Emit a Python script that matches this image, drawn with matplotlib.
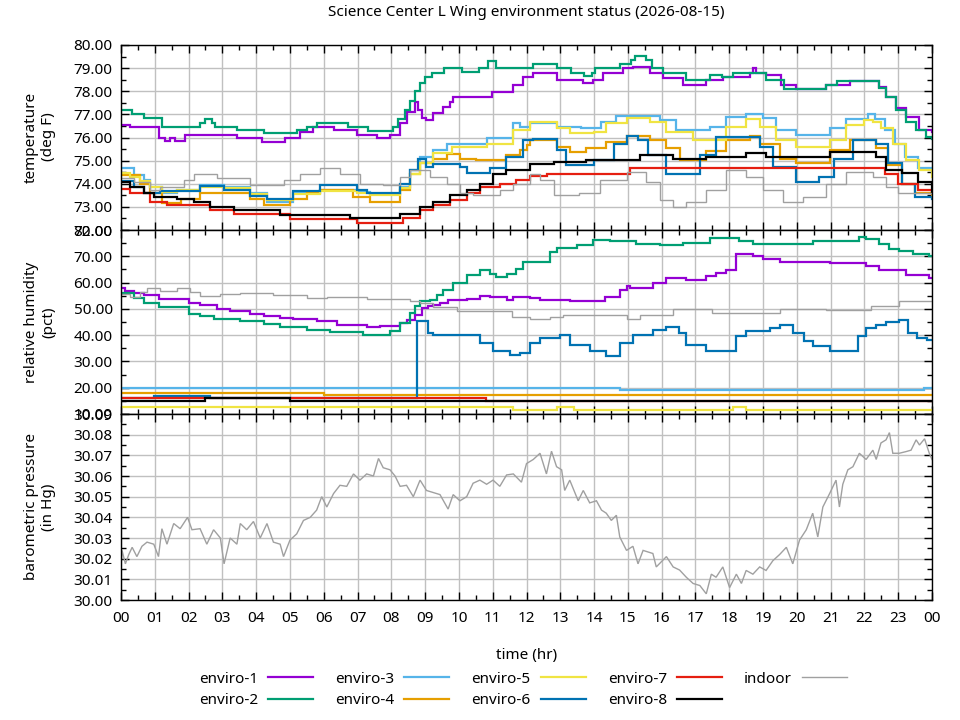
import matplotlib
matplotlib.use("Agg")
import matplotlib.pyplot as plt
from matplotlib.ticker import MultipleLocator, FormatStrFormatter, FuncFormatter

plt.rcParams['font.family'] = ['Noto Sans', 'DejaVu Sans']
plt.rcParams['font.size'] = 11

names = ["enviro-1", "enviro-2", "enviro-3", "enviro-4", "enviro-5",
         "enviro-6", "enviro-7", "enviro-8", "indoor"]
colors = ["#9400d3", "#009e73", "#56b4e9", "#e69f00", "#f0e442",
          "#0072b2", "#e51e10", "#000000", "#a0a0a0"]

# temperature (deg F), (hour, value) step points
temp_e1 = [(0.0, 76.54), (0.28, 76.44), (1.11, 75.96), (1.3, 75.85), (1.45, 75.96), (1.6, 75.85),
           (1.9, 76.10), (3.43, 76.00), (4.17, 75.82), (4.86, 75.96), (5.3, 76.25), (5.69, 76.46),
           (6.29, 76.32), (6.98, 76.10), (7.57, 76.00), (7.96, 76.10), (8.26, 76.61), (8.45, 77.1),
           (8.7, 77.55), (8.8, 77.2), (8.9, 76.83), (9.04, 76.75), (9.24, 77.04), (9.54, 77.3),
           (9.73, 77.55), (9.83, 77.73), (10.97, 77.98), (11.6, 78.27), (11.9, 78.60), (12.2, 78.80),
           (12.89, 78.48), (13.68, 78.34), (13.97, 78.48), (14.27, 78.80), (14.87, 78.99), (15.15, 79.06),
           (15.65, 78.80), (16.04, 78.56), (16.63, 78.27), (17.32, 78.48), (17.81, 78.60), (18.6, 78.80),
           (18.7, 79.0), (18.78, 78.80), (19.09, 78.70), (19.54, 78.27), (19.98, 78.08), (20.87, 78.27),
           (21.56, 78.46), (22.24, 78.46), (22.44, 78.20), (22.64, 77.76), (22.93, 77.26), (23.23, 76.90),
           (23.62, 76.32), (24.0, 76.25)]
temp_e2 = [(0.0, 77.19), (0.33, 77.01), (0.67, 76.83), (1.21, 76.46), (2.34, 76.64), (2.5, 76.78),
           (2.7, 76.64), (2.78, 76.46), (3.43, 76.32), (4.22, 76.18), (5.2, 76.32), (5.5, 76.46),
           (5.8, 76.64), (6.73, 76.46), (7.3, 76.29), (8.06, 76.46), (8.2, 76.8), (8.4, 77.2),
           (8.55, 77.6), (8.7, 78.0), (8.85, 78.35), (9.0, 78.6), (9.2, 78.8), (9.55, 78.99),
           (10.1, 78.85), (10.6, 78.99), (10.85, 79.32), (11.1, 78.99), (12.2, 79.16), (12.89, 78.99),
           (13.33, 78.77), (13.7, 78.65), (13.95, 78.77), (14.02, 78.99), (14.76, 79.16), (15.1, 79.35),
           (15.2, 79.52), (15.55, 79.35), (15.7, 78.99), (16.04, 78.77), (16.73, 78.48), (17.42, 78.70),
           (17.8, 78.60), (18.1, 78.80), (19.09, 78.48), (19.63, 78.08), (20.87, 78.27), (21.2, 78.46),
           (22.24, 78.46), (22.44, 78.12), (22.64, 77.76), (22.93, 77.19), (23.23, 76.68), (23.52, 76.32),
           (23.82, 76.03), (24.0, 75.92)]
temp_e3 = [(0.0, 74.66), (0.37, 74.37), (0.67, 74.16), (0.87, 73.87), (1.21, 73.58), (1.66, 73.72),
           (2.34, 73.94), (3.04, 73.84), (3.82, 73.58), (4.32, 73.22), (5.1, 73.58), (5.89, 73.72),
           (6.97, 73.65), (7.37, 73.55), (8.26, 73.87), (8.55, 74.59), (8.85, 75.17), (9.24, 75.45),
           (9.64, 75.71), (10.82, 75.96), (11.6, 76.61), (11.8, 76.46), (12.1, 76.64), (12.89, 76.46),
           (13.6, 76.39), (14.2, 76.68), (14.66, 76.93), (15.94, 76.75), (16.43, 76.32), (17.42, 76.46),
           (17.91, 76.87), (18.5, 77.01), (19.0, 76.83), (19.39, 76.32), (19.98, 76.10), (20.97, 76.39),
           (21.46, 76.78), (22.1, 77.0), (22.3, 76.78), (22.6, 76.32), (22.9, 75.74), (23.2, 75.17),
           (23.6, 74.66), (24.0, 74.52)]
temp_e4 = [(0.0, 74.37), (0.57, 74.01), (0.87, 73.58), (1.21, 73.15), (1.77, 73.32), (2.34, 73.58),
           (3.82, 73.36), (4.22, 73.07), (5.0, 73.32), (5.5, 73.58), (5.89, 73.72), (6.88, 73.43),
           (7.37, 73.22), (8.26, 73.72), (8.55, 74.44), (8.85, 74.88), (9.24, 75.09), (9.64, 75.28),
           (10.03, 75.09), (10.52, 75.02), (11.4, 75.24), (11.8, 75.45), (12.0, 75.67), (12.1, 75.89),
           (12.89, 75.60), (13.28, 75.38), (13.77, 75.53), (14.36, 75.82), (14.96, 76.06), (15.65, 75.89),
           (16.14, 75.53), (16.53, 75.02), (17.32, 75.43), (17.91, 75.89), (18.6, 76.06), (18.9, 75.71),
           (19.5, 75.09), (19.98, 74.88), (20.97, 75.45), (21.56, 75.89), (22.34, 75.53), (22.7, 74.8),
           (23.1, 74.0), (23.5, 73.6), (24.0, 73.48)]
temp_e5 = [(0.0, 74.47), (0.28, 74.30), (0.57, 74.13), (0.87, 73.87), (1.21, 73.65), (1.66, 73.72),
           (2.34, 73.87), (3.04, 73.80), (3.82, 73.55), (4.32, 73.29), (5.1, 73.55), (5.89, 73.69),
           (6.97, 73.60), (7.37, 73.51), (8.26, 73.80), (8.55, 74.44), (8.85, 74.88), (9.24, 75.31),
           (9.8, 75.60), (10.82, 75.74), (11.6, 76.32), (12.1, 76.68), (12.89, 76.39), (13.28, 76.18),
           (14.0, 76.25), (14.36, 76.61), (14.96, 76.83), (15.65, 76.68), (16.14, 76.25), (16.92, 75.89),
           (17.91, 76.46), (18.5, 76.78), (18.9, 76.46), (19.39, 75.89), (19.98, 75.57), (20.97, 75.89),
           (21.46, 76.54), (22.0, 76.75), (22.25, 76.68), (22.5, 76.39), (22.85, 75.74), (23.23, 75.02),
           (23.62, 74.59), (24.0, 74.30)]
temp_e6 = [(0.0, 74.13), (0.37, 73.87), (0.67, 73.58), (1.16, 73.69), (2.34, 73.90), (3.04, 73.75),
           (3.82, 73.48), (4.32, 73.32), (5.1, 73.69), (5.89, 73.94), (6.97, 73.72), (7.27, 73.58),
           (8.26, 74.01), (8.55, 74.59), (8.8, 75.05), (9.04, 74.73), (9.24, 74.85), (10.03, 74.73),
           (10.23, 74.47), (10.92, 74.70), (11.4, 75.17), (11.9, 75.89), (12.2, 75.93), (12.89, 75.45),
           (13.18, 74.81), (14.0, 75.02), (14.6, 75.74), (14.96, 76.06), (15.3, 75.89), (15.6, 75.24),
           (16.14, 74.44), (17.12, 75.24), (17.6, 76.03), (18.4, 76.03), (18.9, 75.60), (19.3, 74.73),
           (19.98, 74.08), (20.67, 74.30), (21.1, 75.09), (21.66, 75.89), (22.34, 75.74), (22.7, 74.9),
           (23.1, 74.0), (23.5, 73.43), (24.0, 73.36)]
temp_e7 = [(0.0, 73.77), (0.28, 73.58), (0.87, 73.22), (1.36, 73.07), (2.64, 72.86), (3.33, 72.71),
           (5.0, 72.48), (6.97, 72.31), (8.36, 72.50), (8.85, 72.86), (9.24, 73.07), (9.73, 73.29),
           (10.23, 73.58), (10.62, 73.87), (11.21, 73.98), (11.7, 74.16), (12.1, 74.33), (12.6, 74.44),
           (15.05, 74.66), (22.44, 74.66), (22.6, 74.44), (23.0, 74.0), (23.6, 73.72), (24.0, 73.58)]
temp_e8 = [(0.0, 74.08), (0.28, 73.87), (0.67, 73.58), (0.97, 73.43), (1.66, 73.36), (2.15, 73.22),
           (2.64, 73.00), (3.33, 72.86), (4.71, 72.67), (6.78, 72.50), (8.26, 72.68), (8.85, 73.00),
           (9.24, 73.22), (9.73, 73.51), (10.23, 73.72), (10.62, 74.01), (11.0, 74.44), (11.4, 74.59),
           (12.1, 74.85), (12.8, 74.95), (13.77, 75.02), (15.35, 75.24), (16.34, 75.09), (17.32, 75.17),
           (18.5, 75.34), (19.09, 75.17), (20.97, 75.38), (22.34, 75.17), (22.64, 74.59), (23.1, 74.45),
           (23.6, 74.08), (24.0, 73.6)]
temp_in = [(0.0, 74.23), (0.37, 74.08), (0.87, 73.72), (1.16, 73.87), (1.85, 74.16), (2.15, 74.42),
           (2.83, 74.23), (3.82, 73.94), (4.81, 74.16), (5.3, 74.44), (5.89, 74.66), (6.48, 74.44),
           (7.07, 73.98), (7.76, 73.94), (8.26, 74.30), (8.55, 74.59), (9.14, 74.30), (9.64, 74.01),
           (10.03, 73.58), (10.43, 73.51), (11.21, 73.72), (11.6, 74.01), (12.1, 74.44), (12.4, 74.16),
           (12.8, 73.51), (13.56, 73.58), (14.17, 74.16), (14.96, 74.52), (15.55, 74.08), (15.94, 73.29),
           (16.34, 73.00), (16.73, 73.22), (17.32, 73.72), (17.91, 74.59), (18.5, 74.30), (19.0, 73.72),
           (19.6, 73.22), (20.18, 73.43), (20.87, 74.01), (21.46, 74.52), (22.24, 74.30), (22.64, 73.87),
           (23.0, 73.58), (24.0, 73.43)]

# relative humidity (pct)
hum_e1 = [(0.0, 57.8), (0.13, 56.9), (0.37, 56.1), (0.67, 55.3), (1.11, 53.6), (2.0, 52.1),
          (2.34, 51.5), (2.84, 49.9), (3.23, 49.0), (3.82, 48.0), (4.22, 47.4), (4.71, 46.7),
          (5.1, 46.1), (5.79, 45.2), (6.38, 44.0), (7.27, 43.0), (7.66, 43.6), (7.96, 43.3),
          (8.26, 44.6), (8.45, 45.8), (8.7, 47.7), (8.9, 50.3), (9.09, 50.9), (9.24, 51.5),
          (9.44, 52.1), (9.68, 53.4), (10.23, 53.8), (10.62, 54.9), (10.92, 54.7), (11.41, 53.4),
          (11.6, 54.7), (12.1, 54.0), (12.39, 53.4), (13.28, 53.0), (14.32, 54.7), (14.76, 57.2),
          (14.96, 58.7), (15.05, 57.8), (15.74, 59.9), (16.14, 61.9), (16.73, 60.9), (17.32, 62.5),
          (17.61, 63.7), (17.9, 64.7), (18.2, 70.7), (18.7, 70.0), (19.0, 69.1), (19.5, 67.8),
          (20.97, 67.5), (22.05, 66.2), (22.44, 64.7), (23.23, 62.8), (23.92, 61.9), (24.0, 61.9)]
hum_e2 = [(0.0, 55.9), (0.37, 54.0), (0.67, 52.1), (1.11, 50.6), (2.0, 48.1), (2.34, 47.1),
          (2.74, 46.1), (3.53, 45.2), (4.22, 44.3), (4.71, 43.0), (5.5, 42.0), (6.19, 41.1),
          (7.17, 40.1), (7.96, 41.4), (8.26, 44.6), (8.55, 48.4), (8.7, 51.1), (8.85, 52.8),
          (9.14, 53.4), (9.34, 55.3), (9.54, 57.2), (9.83, 59.7), (10.23, 62.8), (10.62, 64.7),
          (10.92, 63.2), (11.11, 62.2), (11.41, 63.2), (11.7, 65.3), (11.9, 67.9), (12.69, 71.6),
          (12.89, 73.3), (13.48, 74.2), (13.97, 76.3), (14.46, 75.8), (15.25, 74.8), (15.94, 74.2),
          (16.63, 75.0), (17.42, 77.1), (18.3, 76.0), (18.7, 74.8), (19.68, 74.5), (20.47, 76.0),
          (21.85, 77.5), (22.05, 76.6), (22.44, 74.5), (22.74, 72.9), (23.03, 72.0), (23.43, 71.0),
          (23.92, 70.0), (24.0, 70.0)]
hum_e3 = [(0.0, 19.9), (14.76, 19.2), (23.75, 19.8), (24.0, 19.8)]
hum_e4 = [(0.0, 18.1), (6.0, 17.4), (24.0, 17.4)]
hum_e5 = [(0.0, 12.6), (11.6, 11.5), (12.9, 12.6), (13.4, 11.5), (18.1, 12.6), (18.5, 11.5), (24.0, 11.5)]
hum_e6 = [(0.0, 15.9), (0.97, 16.9), (2.64, 16.0), (8.73, 16.0), (8.75, 35.8), (8.77, 45.2),
          (9.09, 40.8), (9.24, 39.9), (10.62, 37.0), (11.0, 33.9), (11.5, 32.6), (11.8, 33.3),
          (12.1, 37.0), (12.39, 38.9), (12.98, 40.2), (13.28, 36.4), (13.87, 33.9), (14.36, 32.2),
          (14.76, 37.0), (15.15, 40.2), (15.74, 41.8), (16.14, 43.0), (16.5, 40.8), (16.73, 36.4),
          (17.3, 33.9), (18.2, 39.5), (18.5, 41.4), (19.2, 42.7), (19.49, 44.0), (19.9, 40.8),
          (20.2, 37.7), (20.47, 36.0), (20.97, 33.9), (21.8, 39.5), (22.05, 42.7), (22.34, 44.0),
          (22.64, 44.9), (23.03, 45.8), (23.28, 40.8), (23.55, 38.9), (23.85, 38.0), (24.0, 38.0)]
hum_e7 = [(0.0, 15.9), (10.8, 15.1), (24.0, 15.1)]
hum_e8 = [(0.0, 15.0), (2.5, 15.9), (5.0, 15.0), (24.0, 15.0)]
hum_in = [(0.0, 55.7), (0.28, 54.4), (0.57, 56.5), (0.77, 57.8), (1.16, 56.9), (1.66, 57.8),
          (2.05, 56.5), (2.34, 54.9), (2.94, 55.7), (3.53, 56.2), (4.51, 55.3), (5.5, 54.0),
          (6.09, 54.7), (7.27, 53.6), (8.55, 53.0), (8.85, 52.1), (9.24, 50.6), (9.93, 49.3),
          (10.52, 49.0), (11.56, 46.9), (12.1, 46.1), (12.7, 46.9), (13.08, 47.7), (14.96, 46.1),
          (15.35, 47.7), (16.34, 49.9), (17.5, 48.4), (19.5, 49.9), (20.87, 49.4), (22.2, 51.1),
          (23.03, 53.0), (24.0, 53.0)]

# barometric pressure (in Hg), indoor sensor only
pressure = [(0.00, 30.016), (0.03, 30.024), (0.13, 30.0175), (0.23, 30.022), (0.33, 30.0255),
            (0.47, 30.021), (0.62, 30.026), (0.77, 30.028), (0.97, 30.027), (1.11, 30.021),
            (1.21, 30.0345), (1.36, 30.027), (1.56, 30.037), (1.75, 30.0345), (1.97, 30.040),
            (2.10, 30.034), (2.34, 30.0345), (2.54, 30.027), (2.74, 30.034), (2.94, 30.030),
            (3.05, 30.0175), (3.23, 30.030), (3.43, 30.027), (3.53, 30.037), (3.72, 30.034),
            (3.92, 30.038), (4.12, 30.030), (4.32, 30.037), (4.51, 30.028), (4.71, 30.027),
            (4.81, 30.021), (5.00, 30.029), (5.20, 30.032), (5.40, 30.0385), (5.60, 30.040),
            (5.79, 30.0435), (5.94, 30.050), (6.09, 30.045), (6.29, 30.0515), (6.48, 30.0555),
            (6.68, 30.055), (6.88, 30.061), (7.07, 30.058), (7.27, 30.061), (7.47, 30.060),
            (7.62, 30.0685), (7.76, 30.064), (7.96, 30.063), (8.11, 30.060), (8.26, 30.055),
            (8.45, 30.0555), (8.65, 30.050), (8.85, 30.058), (9.04, 30.053), (9.24, 30.052),
            (9.44, 30.051), (9.68, 30.044), (9.83, 30.051), (10.03, 30.048), (10.23, 30.050),
            (10.42, 30.0565), (10.62, 30.058), (10.82, 30.056), (11.01, 30.058), (11.21, 30.055),
            (11.41, 30.0605), (11.61, 30.061), (11.85, 30.057), (12.0, 30.066), (12.2, 30.068),
            (12.4, 30.071), (12.59, 30.061), (12.74, 30.072), (12.89, 30.0645), (13.04, 30.063),
            (13.13, 30.053), (13.28, 30.058), (13.38, 30.054), (13.53, 30.048), (13.68, 30.053),
            (13.87, 30.047), (14.07, 30.048), (14.22, 30.0435), (14.36, 30.042), (14.51, 30.0385),
            (14.66, 30.041), (14.76, 30.0305), (14.96, 30.024), (15.15, 30.026), (15.30, 30.0175),
            (15.45, 30.024), (15.74, 30.0225), (15.84, 30.016), (16.14, 30.021), (16.34, 30.016),
            (16.53, 30.0145), (16.73, 30.011), (16.93, 30.008), (17.13, 30.007), (17.32, 30.003),
            (17.47, 30.0125), (17.61, 30.011), (17.81, 30.016), (18.01, 30.006), (18.21, 30.0125),
            (18.36, 30.008), (18.50, 30.0143), (18.7, 30.0125), (18.9, 30.016), (19.09, 30.0143),
            (19.29, 30.019), (19.49, 30.022), (19.69, 30.0255), (19.88, 30.0175), (20.08, 30.029),
            (20.28, 30.034), (20.47, 30.042), (20.62, 30.0305), (20.77, 30.045), (20.97, 30.0515),
            (21.16, 30.058), (21.26, 30.045), (21.36, 30.056), (21.51, 30.063), (21.66, 30.0645),
            (21.85, 30.071), (22.05, 30.068), (22.25, 30.0725), (22.35, 30.068), (22.49, 30.076),
            (22.64, 30.0775), (22.74, 30.081), (22.84, 30.071), (23.03, 30.071), (23.23, 30.0718),
            (23.38, 30.0725), (23.53, 30.0775), (23.63, 30.075), (23.78, 30.078), (23.92, 30.071),
            (24.0, 30.068)]

temps = [temp_e1, temp_e2, temp_e3, temp_e4, temp_e5, temp_e6, temp_e7, temp_e8, temp_in]
hums = [hum_e1, hum_e2, hum_e3, hum_e4, hum_e5, hum_e6, hum_e7, hum_e8, hum_in]

fig = plt.figure(figsize=(9.6, 7.2), dpi=100)
left, width = 121 / 960, 811 / 960
ax_t = fig.add_axes([left, 1 - 230 / 720, width, 185 / 720])
ax_h = fig.add_axes([left, 1 - 414 / 720, width, 184 / 720])
ax_p = fig.add_axes([left, 1 - 600 / 720, width, 186 / 720])


def draw(ax, pts, color, lw, label=None, step=True):
    xs = [p[0] for p in pts]
    ys = [p[1] for p in pts]
    ax.plot(xs, ys, color=color, lw=lw, label=label,
            drawstyle="steps-post" if step else "default", solid_joinstyle="miter")


for name, col, tp, hm in zip(names, colors, temps, hums):
    lw = 1.0 if name == "indoor" else 1.6
    draw(ax_t, tp, col, lw, label=name)
    draw(ax_h, hm, col, lw)
draw(ax_p, pressure, colors[-1], 1.0, step=False)

fmt2 = FormatStrFormatter("%.2f")
settings = [(ax_t, 72, 80, 1, 0.5), (ax_h, 10, 80, 10, 5), (ax_p, 30.0, 30.09, 0.01, 0.005)]
for ax, lo, hi, major, minor in settings:
    ax.set_xlim(0, 24)
    ax.set_ylim(lo, hi)
    ax.xaxis.set_major_locator(MultipleLocator(1))
    ax.xaxis.set_minor_locator(MultipleLocator(0.5))
    ax.yaxis.set_major_locator(MultipleLocator(major))
    ax.yaxis.set_minor_locator(MultipleLocator(minor))
    ax.yaxis.set_major_formatter(fmt2)
    ax.grid(True, which="major", color="#c0c0c0", lw=1.0)
    ax.set_axisbelow(True)
    ax.tick_params(which="both", direction="in", top=True, right=True, labelsize=11, width=1.0)
    ax.tick_params(which="major", length=6, pad=6)
    ax.tick_params(which="minor", length=3.5)
    for sp in ax.spines.values():
        sp.set_linewidth(1.0)
    if ax is not ax_p:
        ax.tick_params(labelbottom=False)

ax_p.xaxis.set_major_formatter(FuncFormatter(lambda v, pos: "%02d" % (int(round(v)) % 24)))
ax_p.tick_params(axis="x", pad=8)
ax_p.set_xlabel("time (hr)", fontsize=11, labelpad=16)

fig.text(40 / 960, 1 - 137 / 720, "temperature\n(deg F)", rotation=90, ha="center", va="center",
         multialignment="center", fontsize=11)
fig.text(40 / 960, 1 - 322 / 720, "relative humidity\n(pct)", rotation=90, ha="center", va="center",
         multialignment="center", fontsize=11)
fig.text(40 / 960, 1 - 507 / 720, "barometric pressure\n(in Hg)", rotation=90, ha="center", va="center",
         multialignment="center", fontsize=11)

fig.suptitle("Science Center L Wing environment status (2026-08-15)", x=left + width / 2,
             y=1 - 5 / 720, va="top", fontsize=11)

handles, labels = ax_t.get_legend_handles_labels()
fig.legend(handles, labels, ncol=5, loc="upper center", bbox_to_anchor=(523 / 960, 1 - 658 / 720),
           frameon=False, markerfirst=False, handlelength=2.95, handletextpad=0.65,
           columnspacing=1.45, labelspacing=0.42, fontsize=11)

fig.savefig("out.png", dpi=100)
